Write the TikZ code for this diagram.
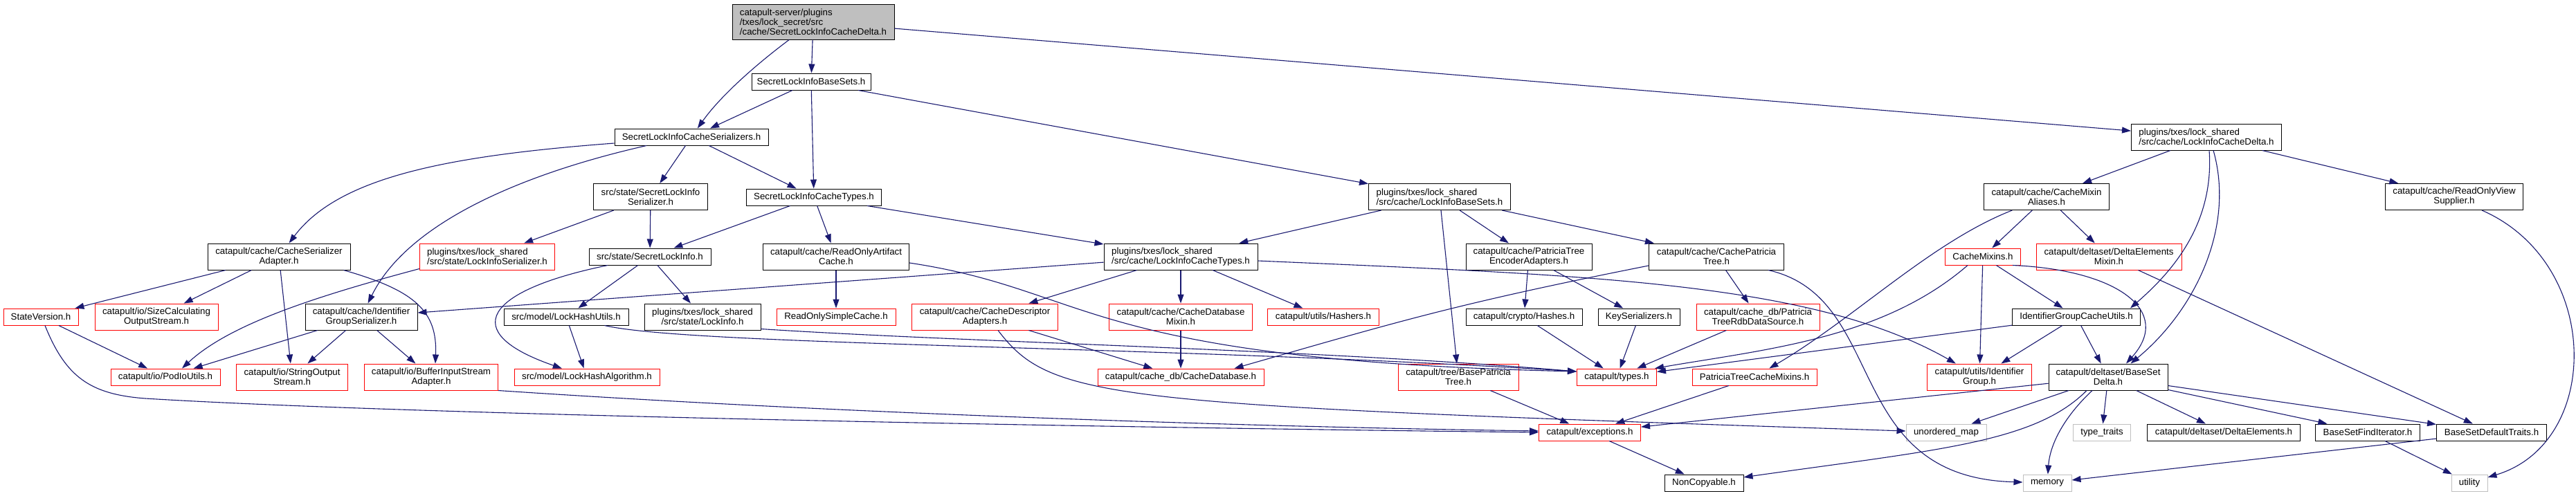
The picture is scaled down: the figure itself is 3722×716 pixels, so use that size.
\documentclass[tikz,border=0pt]{standalone}
\usepackage{fontspec}
\setmainfont{Liberation Sans}
\usepackage{tikz}
\usetikzlibrary{arrows.meta, positioning, calc}

\definecolor{edgeblue}{HTML}{191970}
\definecolor{missred}{HTML}{FF0000}
\definecolor{sysgray}{HTML}{BFBFBF}
\newcommand{\boxfont}{\fontsize{13.3}{14}\selectfont}

\begin{document}
\begin{tikzpicture}[x=1pt, y=-1pt,
  file/.style={rectangle, draw=black, line width=1pt, fill=white,
    inner xsep=4pt, inner ysep=2pt, align=center, font=\boxfont,
    minimum height=24pt},
  twoline/.style={minimum height=38pt},
  missing/.style={file, draw=missred},
  sysfile/.style={file, draw=sysgray},
  rootfile/.style={file, fill=sysgray, minimum height=51pt, align=left},
  dep/.style={-{Triangle[length=13pt, width=9pt]}, draw=edgeblue,
    line width=1.1pt}
]
\useasboundingbox (0,0) rectangle (3722,716);

% Nodes
\node[rootfile, minimum width=234pt] (root) at (1175,31.5) {catapult-server/plugins\\/txes/lock\_secret/src\\/cache/SecretLockInfoCacheDelta.h};

\node[file, minimum width=172pt] (basesets) at (1172,118) {SecretLockInfoBaseSets.h};

\node[file, minimum width=222pt] (serializers) at (999,198) {SecretLockInfoCacheSerializers.h};
\node[file, twoline, align=left, minimum width=217pt] (lcdelta) at (3188,198) {plugins/txes/lock\_shared\\/src/cache/LockInfoCacheDelta.h};

\node[file, twoline, minimum width=165pt] (slserial) at (940,284.5) {src/state/SecretLockInfo\\Serializer.h};
\node[file, minimum width=195pt] (cachetypes) at (1176,285) {SecretLockInfoCacheTypes.h};
\node[file, twoline, align=left, minimum width=205pt] (lbasesets) at (2080,284.5) {plugins/txes/lock\_shared\\/src/cache/LockInfoBaseSets.h};
\node[file, twoline, minimum width=181pt] (mixaliases) at (2957,284.5) {catapult/cache/CacheMixin\\Aliases.h};
\node[file, twoline, minimum width=199pt] (rovs) at (3546,284.5) {catapult/cache/ReadOnlyView\\Supplier.h};

\node[file, twoline, minimum width=206pt] (csadapter) at (403,371) {catapult/cache/CacheSerializer\\Adapter.h};
\node[missing, twoline, align=left, minimum width=195pt] (liserial) at (704,371) {plugins/txes/lock\_shared\\/src/state/LockInfoSerializer.h};
\node[file, minimum width=176pt] (slinfo) at (939,371) {src/state/SecretLockInfo.h};
\node[file, twoline, minimum width=211pt] (roac) at (1208,371) {catapult/cache/ReadOnlyArtifact\\Cache.h};
\node[file, twoline, align=left, minimum width=222pt] (lctypes) at (1706,371) {plugins/txes/lock\_shared\\/src/cache/LockInfoCacheTypes.h};
\node[file, twoline, minimum width=182pt] (ptenc) at (2209,371) {catapult/cache/PatriciaTree\\EncoderAdapters.h};
\node[file, twoline, minimum width=195pt] (cpt) at (2480,371) {catapult/cache/CachePatricia\\Tree.h};
\node[missing, minimum width=109pt] (mixins) at (2865,371) {CacheMixins.h};
\node[missing, twoline, minimum width=210pt] (demixin) at (3047,371) {catapult/deltaset/DeltaElements\\Mixin.h};

\node[missing, minimum width=108pt] (stver) at (59,458) {StateVersion.h};
\node[missing, twoline, minimum width=178pt] (sizecalc) at (226,458) {catapult/io/SizeCalculating\\OutputStream.h};
\node[file, twoline, minimum width=162pt] (idgser) at (522,458) {catapult/cache/Identifier\\GroupSerializer.h};
\node[file, minimum width=180pt] (lhutils) at (818,458) {src/model/LockHashUtils.h};
\node[file, twoline, minimum width=168pt] (linfo) at (1015,458) {plugins/txes/lock\_shared\\/src/state/LockInfo.h};
\node[missing, minimum width=172pt] (rosc) at (1208,458) {ReadOnlySimpleCache.h};
\node[missing, twoline, minimum width=211pt] (cdesc) at (1423,458) {catapult/cache/CacheDescriptor\\Adapters.h};
\node[missing, twoline, minimum width=207pt] (cdbmix) at (1706,458) {catapult/cache/CacheDatabase\\Mixin.h};
\node[missing, minimum width=161pt] (hashers) at (1912,458) {catapult/utils/Hashers.h};
\node[file, minimum width=168pt] (hashes) at (2202,458) {catapult/crypto/Hashes.h};
\node[file, minimum width=118pt] (keyser) at (2368,458) {KeySerializers.h};
\node[missing, twoline, minimum width=178pt] (ptrdb) at (2540,458) {catapult/cache\_db/Patricia\\TreeRdbDataSource.h};
\node[file, minimum width=185pt] (idgcu) at (3000,458) {IdentifierGroupCacheUtils.h};

\node[missing, minimum width=158pt] (podio) at (239,545) {catapult/io/PodIoUtils.h};
\node[missing, twoline, minimum width=161pt] (strout) at (422,545) {catapult/io/StringOutput\\Stream.h};
\node[missing, twoline, minimum width=193pt] (bufin) at (623,545) {catapult/io/BufferInputStream\\Adapter.h};
\node[missing, minimum width=210pt] (lhalgo) at (848,545) {src/model/LockHashAlgorithm.h};
\node[missing, minimum width=240pt] (cachedb) at (1706,545) {catapult/cache\_db/CacheDatabase.h};
\node[missing, twoline, minimum width=174pt] (bpt) at (2107,545) {catapult/tree/BasePatricia\\Tree.h};
\node[missing, minimum width=115pt] (types) at (2336,545) {catapult/types.h};
\node[missing, minimum width=180pt] (ptcm) at (2535,545) {PatriciaTreeCacheMixins.h};
\node[missing, twoline, minimum width=151pt] (idgroup) at (2860,545) {catapult/utils/Identifier\\Group.h};
\node[file, twoline, minimum width=172pt] (bsdelta) at (3046,545) {catapult/deltaset/BaseSet\\Delta.h};

\node[missing, minimum width=147pt] (exc) at (2297,625) {catapult/exceptions.h};
\node[sysfile, minimum width=116pt] (umap) at (2812,625) {unordered\_map};
\node[sysfile, minimum width=83pt] (ttraits) at (3037,625) {type\_traits};
\node[file, minimum width=221pt] (delems) at (3213,625) {catapult/deltaset/DeltaElements.h};
\node[file, minimum width=151pt] (bsfind) at (3421,625) {BaseSetFindIterator.h};
\node[file, minimum width=159pt] (bsdeft) at (3600,625) {BaseSetDefaultTraits.h};

\node[file, minimum width=114pt] (noncopy) at (2462,698) {NonCopyable.h};
\node[sysfile, minimum width=70pt] (memory) at (2958,698) {memory};
\node[sysfile, minimum width=52pt] (utility) at (3568,698) {utility};

% Arrows
\draw[dep] (root) .. controls (1090,95) and (1040,140) .. (serializers);
\draw[dep] (root) -- (basesets);
\draw[dep] (root) -- (lcdelta);
\draw[dep] (basesets) -- (serializers);
\draw[dep] (basesets) -- (cachetypes);
\draw[dep] (basesets) -- (lbasesets);
\draw[dep] ($(serializers.west)+(0,9)$) .. controls (650,225) and (490,255) .. (csadapter);
\draw[dep] ($(serializers.south)+(-65,0)$) .. controls (760,250) and (590,320) .. (idgser);
\draw[dep] (serializers) -- (slserial);
\draw[dep] (serializers) -- (cachetypes);
\draw[dep] (slserial) -- (liserial);
\draw[dep] (slserial) -- (slinfo);
\draw[dep] (cachetypes) -- (slinfo);
\draw[dep] (cachetypes) -- (roac);
\draw[dep] (cachetypes) -- (lctypes);
\draw[dep] (lbasesets) -- (lctypes);
\draw[dep] (lbasesets) -- (bpt);
\draw[dep] (lbasesets) -- (ptenc);
\draw[dep] (lbasesets) -- (cpt);
\draw[dep] (lcdelta) -- (mixaliases);
\draw[dep] (lcdelta) -- (rovs);
\draw[dep] ($(lcdelta.south)+(4,0)$) .. controls (3200,330) and (3130,400) .. ($(idgcu.north east)+(-15,0)$);
\draw[dep] ($(lcdelta.south)+(10,0)$) .. controls (3230,330) and (3170,450) .. ($(bsdelta.north east)+(-54,0)$);
\draw[dep] ($(rovs.south)+(40,0)$) .. controls (3760,380) and (3760,640) .. (utility);
\draw[dep] (mixaliases) .. controls (2790,350) and (2680,460) .. (ptcm);
\draw[dep] (mixaliases) -- (mixins);
\draw[dep] (mixaliases) -- (demixin);
\draw[dep] ($(mixins.south west)+(33,0)$) .. controls (2720,490) and (2550,505) .. ($(types.north east)+(-3,0)$);
\draw[dep] (mixins) -- (idgroup);
\draw[dep] (mixins) -- (idgcu);
\draw[dep] ($(mixins.south east)+(-12,0)$) .. controls (3060,390) and (3140,450) .. ($(bsdelta.north)+(26,0)$);
\draw[dep] (demixin) -- (bsdeft);
\draw[dep] (idgcu) -- (types);
\draw[dep] (idgcu) -- (idgroup);
\draw[dep] (idgcu) -- (bsdelta);
\draw[dep] (bsdelta) -- (exc);
\draw[dep] (bsdelta) -- (umap);
\draw[dep] ($(bsdelta.south)+(-31,0)$) .. controls (2940,640) and (2800,650) .. (noncopy);
\draw[dep] ($(bsdelta.south)+(-23,0)$) .. controls (2985,600) and (2962,640) .. (memory);
\draw[dep] (bsdelta) -- (ttraits);
\draw[dep] (bsdelta) -- (delems);
\draw[dep] (bsdelta) -- (bsfind);
\draw[dep] (bsdelta) -- (bsdeft);
\draw[dep] (bsdeft) -- (memory);
\draw[dep] (bsfind) -- (utility);
\draw[dep] (cpt) -- (ptrdb);
\draw[dep] ($(cpt.south east)+(-23,0)$) .. controls (2730,430) and (2660,690) .. (memory);
\draw[dep] ($(cpt.west)+(0,13)$) .. controls (2100,440) and (2020,465) .. ($(cachedb.north east)+(-43,0)$);
\draw[dep] (ptenc) -- (hashes);
\draw[dep] (ptenc) -- (keyser);
\draw[dep] (hashes) -- (types);
\draw[dep] (keyser) -- (types);
\draw[dep] (ptrdb) -- (types);
\draw[dep] (bpt) -- (exc);
\draw[dep] (ptcm) -- (exc);
\draw[dep] (exc) -- (noncopy);
\draw[dep] (lctypes) -- (idgser);
\draw[dep] (lctypes) -- (cdesc);
\draw[dep] (lctypes) -- (cdbmix);
\draw[dep] (lctypes) -- (hashers);
\draw[dep] ($(lctypes.east)+(0,6)$) .. controls (2300,398) and (2620,408) .. (idgroup);
\draw[dep] (roac) -- (rosc);
\draw[dep] ($(roac.east)+(0,9)$) .. controls (1580,420) and (1560,520) .. ($(types.west)+(0,-8)$);
\draw[dep] (cdesc) -- (cachedb);
\draw[dep] ($(cdesc.south)+(19,0)$) .. controls (1520,580) and (1600,585) .. (umap);
\draw[dep] (cdbmix) -- (cachedb);
\draw[dep] (slinfo) -- (lhutils);
\draw[dep] (slinfo) -- (linfo);
\draw[dep] (slinfo) .. controls (700,420) and (660,480) .. (lhalgo);
\draw[dep] (lhutils) -- (lhalgo);
\draw[dep] ($(lhutils.south east)+(-35,0)$) .. controls (1000,500) and (1700,500) .. ($(types.west)+(0,-8)$);
\draw[dep] ($(linfo.south east)+(0,-2)$) .. controls (1400,495) and (1900,505) .. ($(types.west)+(0,-8)$);
\draw[dep] (csadapter) -- (stver);
\draw[dep] (csadapter) -- (sizecalc);
\draw[dep] (csadapter) -- (strout);
\draw[dep] ($(csadapter.south east)+(-10,0)$) .. controls (600,420) and (632,450) .. ($(bufin.north)+(6,0)$);
\draw[dep] ($(liserial.south west)+(0,-2)$) .. controls (450,430) and (330,470) .. ($(podio.north)+(24,0)$);
\draw[dep] (idgser) -- (podio);
\draw[dep] (idgser) -- (strout);
\draw[dep] (idgser) -- (bufin);
\draw[dep] (stver) -- (podio);
\draw[dep] ($(stver.south)+(6,0)$) .. controls (95,545) and (130,570) .. (210,576) .. controls (600,600) and (1600,618) .. (exc.west);
\draw[dep] (bufin.south east) .. controls (1200,597) and (1800,617) .. ($(exc.west)+(0,-2)$);

\end{tikzpicture}
\end{document}
